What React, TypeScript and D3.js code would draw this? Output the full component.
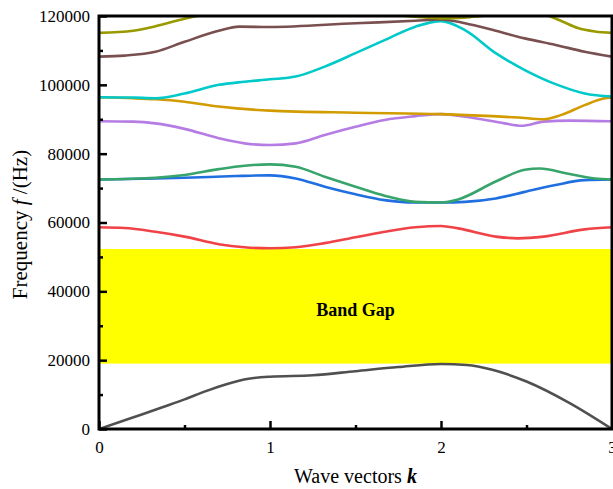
import React, { useEffect, useRef } from 'react';
import * as d3 from 'd3';

const W = 613;
const H = 489;
const left = 99;
const right = 612;
const top = 16;
const bottom = 429;

// band gap edges (Hz)
const gapLow = 19000;
const gapHigh = 52300;

const xMajor = [0, 1, 2, 3];
const xMinor = [0.5, 1.5, 2.5];
const yMajor = [0, 20000, 40000, 60000, 80000, 100000, 120000];
const yMinor = [10000, 30000, 50000, 70000, 90000, 110000];

const band1K = [0, 0.125, 0.25, 0.375, 0.5, 0.625, 0.75, 0.875, 1, 1.25, 1.5, 1.75, 2, 2.15, 2.3, 2.5, 2.75, 3];
const band1F = [0, 2.1, 4.2, 6.4, 8.6, 11.0, 13.1, 14.6, 15.2, 15.6, 16.8, 18.0, 18.9, 18.6, 17.2, 13.8, 7.6, 0];

const band2K = [0, 0.15, 0.33, 0.5, 0.7, 0.85, 1, 1.15, 1.32, 1.5, 1.67, 1.85, 2, 2.1, 2.32, 2.45, 2.6, 2.84, 3];
const band2F = [58.6, 58.4, 57.3, 55.9, 53.7, 52.8, 52.5, 52.8, 54.0, 55.7, 57.3, 58.6, 59.0, 58.3, 55.9, 55.4, 55.9, 58.0, 58.6];

const band3K = [0, 0.33, 0.5, 0.8, 1, 1.15, 1.32, 1.5, 1.67, 1.85, 2, 2.14, 2.32, 2.49, 2.67, 2.84, 3];
const band3F = [72.5, 72.8, 73.0, 73.5, 73.7, 72.8, 70.4, 68.2, 66.5, 65.8, 65.8, 66.0, 67.0, 68.9, 70.9, 72.3, 72.5];

const band4K = [0, 0.33, 0.5, 0.7, 0.85, 1, 1.15, 1.32, 1.5, 1.67, 1.85, 2, 2.1, 2.32, 2.49, 2.58, 2.73, 2.9, 3];
const band4F = [72.5, 73.0, 73.8, 75.5, 76.5, 76.9, 76.2, 73.3, 70.4, 67.8, 66.0, 65.8, 66.7, 71.9, 75.3, 75.7, 74.3, 72.8, 72.5];

const band5K = [0, 0.2, 0.33, 0.5, 0.7, 0.85, 1, 1.15, 1.32, 1.5, 1.67, 1.85, 2, 2.2, 2.37, 2.47, 2.6, 2.75, 3];
const band5F = [89.4, 89.3, 88.8, 87.2, 84.5, 83.0, 82.5, 83.0, 85.4, 87.8, 89.8, 90.9, 91.5, 90.3, 88.8, 88.1, 89.3, 89.6, 89.4];

const band6K = [0, 0.2, 0.33, 0.5, 0.7, 1, 1.5, 2, 2.3, 2.45, 2.6, 2.7, 2.84, 2.95, 3];
const band6F = [96.4, 96.1, 95.8, 95.1, 93.7, 92.5, 91.9, 91.5, 90.9, 90.5, 90.0, 91.2, 94.1, 96.0, 96.4];

const band7K = [0, 0.2, 0.33, 0.5, 0.7, 0.85, 1, 1.15, 1.32, 1.5, 1.67, 1.85, 2, 2.14, 2.32, 2.49, 2.67, 2.84, 3];
const band7F = [96.4, 96.3, 96.1, 97.5, 100.0, 100.9, 101.6, 102.4, 105.3, 109.2, 113.0, 116.9, 118.5, 115.9, 109.2, 104.3, 100.2, 97.5, 96.6];

const band8K = [0, 0.15, 0.33, 0.5, 0.7, 0.82, 1, 1.5, 1.85, 2, 2.14, 2.32, 2.49, 2.67, 2.84, 3];
const band8F = [108.2, 108.5, 109.6, 112.5, 115.7, 116.9, 116.8, 117.9, 118.6, 119.0, 117.9, 115.7, 113.5, 111.6, 109.6, 108.2];

const band9K = [0, 0.2, 0.33, 0.5, 0.6, 0.8, 1.2, 1.6, 1.85, 2, 2.15, 2.3, 2.5, 2.63, 2.71, 2.8, 2.9, 3];
const band9F = [115.1, 115.7, 117.0, 119.2, 120.2, 121.5, 122.0, 121.0, 119.8, 119.3, 119.6, 120.3, 121.0, 120.0, 118.4, 116.5, 115.5, 115.1];

const bandColors = ['#505050', '#ef4347', '#1f6fe0', '#37a56b', '#b57de3', '#d29b00', '#00c9c9', '#7a4f50', '#999900'];

const bands = [
  [band1K, band1F], [band2K, band2F], [band3K, band3F], [band4K, band4F], [band5K, band5F],
  [band6K, band6F], [band7K, band7F], [band8K, band8F], [band9K, band9F],
].map(([k, f], i) => ({ pts: k.map((kv, j) => [kv, f[j] * 1000] as [number, number]), color: bandColors[i] }));

const FONT = '"Liberation Serif", "Times New Roman", serif';

export default function App() {
  const axRef = useRef<SVGGElement>(null);

  const x = d3.scaleLinear().domain([0, 3]).range([left, right]);
  const y = d3.scaleLinear().domain([0, 120000]).range([bottom, top]);

  const line = d3.line<[number, number]>()
    .x(d => x(d[0]))
    .y(d => y(d[1]))
    .curve(d3.curveMonotoneX);

  useEffect(() => {
    const g = d3.select(axRef.current);
    g.selectAll('*').remove();

    const yAx = g.append('g')
      .attr('transform', `translate(${left},0)`)
      .call(d3.axisLeft(y).tickValues(yMajor).tickSize(-8).tickPadding(9).tickFormat(d3.format('d')));
    const yMin = g.append('g')
      .attr('transform', `translate(${left},0)`)
      .call(d3.axisLeft(y).tickValues(yMinor).tickSize(-4).tickFormat(() => ''));

    const xAx = g.append('g')
      .attr('transform', `translate(0,${bottom})`)
      .call(d3.axisBottom(x).tickValues(xMajor).tickSize(-8).tickPadding(9).tickFormat(d3.format('d')));
    const xMin = g.append('g')
      .attr('transform', `translate(0,${bottom})`)
      .call(d3.axisBottom(x).tickValues(xMinor).tickSize(-4).tickFormat(() => ''));

    [yAx, yMin, xAx, xMin].forEach(a => {
      a.select('.domain').remove();
      a.attr('font-family', FONT).attr('font-size', 17);
      a.selectAll('line').attr('stroke', '#000').attr('stroke-width', 2.5);
      a.selectAll('text').attr('fill', '#000');
    });
    xAx.selectAll('text').attr('dy', '0.9em');
  }, []);

  return (
    <svg width={W} height={H} style={{ position: 'absolute', left: 0, top: 0, background: '#fff' }}>
      <defs>
        <clipPath id="plot">
          <rect x={left} y={top} width={right - left} height={bottom - top} />
        </clipPath>
      </defs>

      <rect x={left} y={y(gapHigh)} width={right - left} height={y(gapLow) - y(gapHigh)} fill="#ffff00" />
      <text x={x(1.5)} y={(y(gapHigh) + y(gapLow)) / 2 + 10} textAnchor="middle" fontFamily={FONT}
        fontSize={18} fontWeight="bold">Band Gap</text>

      <g clipPath="url(#plot)">
        {bands.map((b, i) => (
          <path key={i} d={line(b.pts) || ''} fill="none" stroke={b.color} strokeWidth={2.6}
            strokeLinejoin="round" strokeLinecap="round" />
        ))}
      </g>

      <rect x={left} y={top} width={right - left} height={bottom - top} fill="none" stroke="#000" strokeWidth={3} />
      <g ref={axRef} />

      <text transform={`translate(27,${(top + bottom) / 2 + 2}) rotate(-90)`} textAnchor="middle"
        fontFamily={FONT} fontSize={21}>
        Frequency  <tspan fontStyle="italic">f</tspan> /(Hz)
      </text>
      <text x={x(1.5)} y={483} textAnchor="middle" fontFamily={FONT} fontSize={20}>
        Wave vectors <tspan fontStyle="italic" fontWeight="bold">k</tspan>
      </text>
    </svg>
  );
}
